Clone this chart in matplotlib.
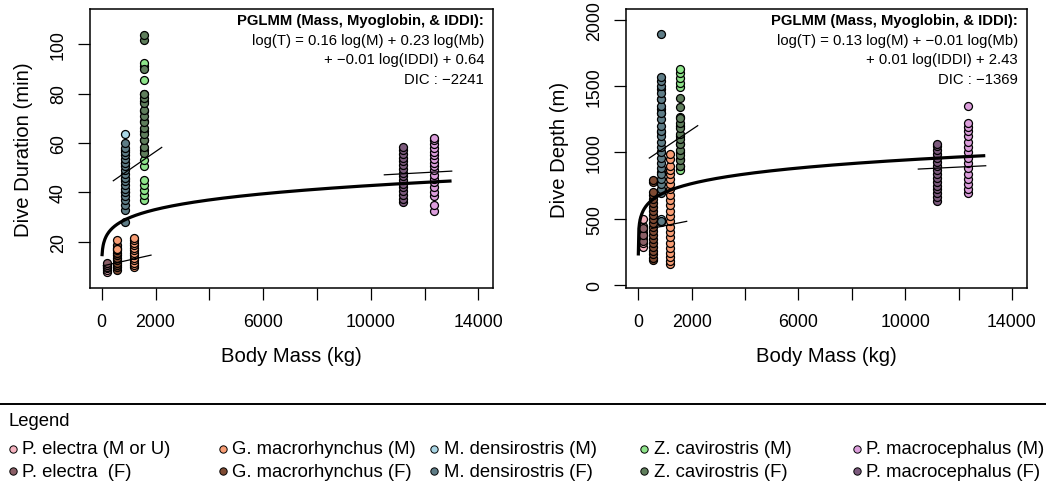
import numpy as np
import matplotlib
matplotlib.use("Agg")
import matplotlib.pyplot as plt

plt.rcParams["font.family"] = ["Liberation Sans", "DejaVu Sans"]

# ---------------------------------------------------------------- data
species = ["P. electra", "G. macrorhynchus", "M. densirostris",
           "Z. cavirostris", "P. macrocephalus"]
male_labels = ["P. electra (M or U)", "G. macrorhynchus (M)", "M. densirostris (M)",
               "Z. cavirostris (M)", "P. macrocephalus (M)"]
female_labels = ["P. electra  (F)", "G. macrorhynchus (F)", "M. densirostris (F)",
                 "Z. cavirostris (F)", "P. macrocephalus (F)"]
male_colors = ["#F6B3C0", "#F89D74", "#A9D6E5", "#8EE48A", "#DC9EDC"]
female_colors = ["#8A5E66", "#7E4A32", "#5E7C86", "#5F7E5C", "#7C5A7D"]

# body mass (kg) per species / sex
mass_pe = 180
mass_gm_f = 560
mass_gm_m = 1200
mass_md = 865
mass_zc = 1580
mass_pm_f = 11180
mass_pm_m = 12350

# dive duration (min)
dur_pe_m = [7.6, 8.4, 9.4]
dur_pe_f = [9.6, 10.6, 11.6]
dur_gm_f = [8.6, 9.6, 10.6, 11.6, 12.6, 13.6, 14.6, 15.6, 16.6, 17.6, 18.6]
dur_gm_m_low = [17.2, 20.6]          # males measured at the lower mass
dur_gm_m = [9.6, 10.6, 11.6, 12.6, 13.6, 14.6, 15.6, 16.6, 17.6, 18.6,
            19.6, 20.6, 21.6]
dur_md_m = [40.0, 45.5, 52.0, 57.0, 63.5]
dur_md_f = [28.0, 33.0, 35.0, 37.0, 38.5, 40.0, 41.5, 43.0, 44.5, 46.0,
            47.5, 49.0, 50.5, 52.0, 53.5, 55.0, 56.5, 58.0, 60.0]
dur_zc_m = [37.0, 39.0, 41.0, 43.0, 45.0, 50.5, 53.0, 57.0, 61.0, 65.0,
            69.0, 73.0, 77.0, 80.0, 85.5, 91.0, 92.5]
dur_zc_f = [56.0, 58.5, 61.0, 63.5, 66.0, 68.5, 71.0, 73.5, 76.0, 78.0,
            80.0, 90.0, 101.5, 103.5]
dur_pm_f = [36.0, 37.5, 39.0, 40.5, 42.0, 43.5, 45.0, 46.5, 48.0, 49.5,
            51.0, 52.5, 54.0, 55.5, 57.0, 58.2]
dur_pm_m = [32.5, 35.0, 38.5, 40.0, 42.0, 44.0, 45.5, 47.0, 49.0, 50.5,
            52.0, 53.5, 55.0, 56.5, 58.0, 59.5, 61.0, 62.0]

# dive depth (m)
dep_pe_m = [290, 320, 345, 370, 395, 420, 445, 500]
dep_pe_f = [335, 380, 430]
dep_gm_f = [185, 200, 230, 260, 290, 320, 350, 380, 410, 440, 470, 500,
            530, 560, 590, 620, 650, 680, 700, 780, 795]
dep_gm_m = [155, 180, 210, 240, 280, 320, 360, 400, 440, 480, 520, 560,
            600, 640, 680, 720, 760, 800, 840, 870, 900, 950, 985]
dep_md_m = [475, 500, 850, 1000, 1150, 1300, 1330, 1400, 1480]
dep_md_f = [485, 690, 720, 760, 800, 840, 880, 920, 960, 1000, 1040, 1080,
            1120, 1160, 1200, 1250, 1300, 1350, 1400, 1450, 1500, 1540,
            1570, 1890]
dep_zc_m = [870, 900, 950, 1000, 1060, 1120, 1200, 1270, 1490, 1520, 1560,
            1600, 1630]
dep_zc_f = [900, 940, 980, 1020, 1060, 1100, 1140, 1180, 1220, 1260, 1340, 1410]
dep_pm_f = [630, 660, 690, 720, 750, 780, 810, 840, 870, 900, 930, 960,
            990, 1020, 1050, 1062]
dep_pm_m = [690, 720, 760, 800, 840, 880, 920, 960, 1000, 1040, 1080, 1120,
            1160, 1190, 1220, 1350]

# PGLMM fitted curve: y = a * M^b over a mass range
fit_dur = dict(a=9.8, b=0.16, m0=10, m1=13000)
fit_dep = dict(a=284.6, b=0.13, m0=0.15, m1=13000)

# group-level fit segments: (mass start, mass end, value start, value end)
seg_dur = [(431, 2230, 44.7, 58.2), (60, 1832, 10.3, 14.6), (10502, 13006, 47.1, 48.6)]
seg_dep = [(412, 2225, 957, 1201), (502, 1813, 427, 480), (10491, 13016, 874, 899)]

eq_dur = ["log(T) = 0.16 log(M) + 0.23 log(Mb)",
          "+ \u22120.01 log(IDDI) + 0.64", "DIC : \u22122241"]
eq_dep = ["log(T) = 0.13 log(M) + \u22120.01 log(Mb)",
          "+ 0.01 log(IDDI) + 2.43", "DIC : \u22121369"]
eq_title = "PGLMM (Mass, Myoglobin, & IDDI):"

# ---------------------------------------------------------------- figure
W, H = 1046, 489
fig = plt.figure(figsize=(W / 100, H / 100), dpi=100)


def px_axes(x0, y0, x1, y1):
    return fig.add_axes([x0 / W, 1 - y1 / H, (x1 - x0) / W, (y1 - y0) / H])


def draw_panel(ax, series, fit, segs, xlim, ylim, yticks):
    for mass, vals, col in series:
        ax.scatter(np.full(len(vals), mass), vals, s=33, c=col,
                   edgecolors="black", linewidths=0.9, zorder=3)
    m = np.linspace(fit["m0"], fit["m1"], 600)
    ax.plot(m, fit["a"] * m ** fit["b"], color="black", lw=2.3, zorder=4,
            solid_capstyle="butt")
    for x0, x1, y0, y1 in segs:
        ax.plot([x0, x1], [y0, y1], color="black", lw=0.9, zorder=4)
    ax.set_xlim(*xlim)
    ax.set_ylim(*ylim)
    ax.set_xticks(np.arange(0, 14001, 2000))
    ax.set_xticklabels(["0", "2000", "", "6000", "", "10000", "", "14000"])
    ax.set_yticks(yticks)
    ax.set_yticklabels([str(t) for t in yticks])
    ax.tick_params(direction="out", length=8.6, width=0.9, labelsize=12.8,
                   colors="black")
    ax.tick_params(axis="x", pad=9.5)
    ax.tick_params(axis="y", pad=8.0, labelrotation=90)
    for lbl in ax.get_yticklabels():
        lbl.set_va("center")
    for sp in ax.spines.values():
        sp.set_linewidth(1.1)


dur_series = [
    (mass_pe, dur_pe_m, male_colors[0]), (mass_pe, dur_pe_f, female_colors[0]),
    (mass_gm_f, dur_gm_f, female_colors[1]), (mass_gm_f, dur_gm_m_low, male_colors[1]),
    (mass_gm_m, dur_gm_m, male_colors[1]),
    (mass_md, dur_md_m, male_colors[2]), (mass_md, dur_md_f, female_colors[2]),
    (mass_zc, dur_zc_m, male_colors[3]), (mass_zc, dur_zc_f, female_colors[3]),
    (mass_pm_f, dur_pm_f, female_colors[4]), (mass_pm_m, dur_pm_m, male_colors[4]),
]
dep_series = [
    (mass_pe, dep_pe_m, male_colors[0]), (mass_pe, dep_pe_f, female_colors[0]),
    (mass_gm_f, dep_gm_f, female_colors[1]), (mass_gm_m, dep_gm_m, male_colors[1]),
    (mass_md, dep_md_m, male_colors[2]), (mass_md, dep_md_f, female_colors[2]),
    (mass_zc, dep_zc_m, male_colors[3]), (mass_zc, dep_zc_f, female_colors[3]),
    (mass_pm_f, dep_pm_f, female_colors[4]), (mass_pm_m, dep_pm_m, male_colors[4]),
]

ax1 = px_axes(90, 10, 493, 289)
draw_panel(ax1, dur_series, fit_dur, seg_dur, (-435, 14540), (1.3, 114.2),
           [20, 40, 60, 80, 100])
ax2 = px_axes(626, 10, 1026.7, 289)
draw_panel(ax2, dep_series, fit_dep, seg_dep, (-461, 14552), (-22.6, 2080.6),
           [0, 500, 1000, 1500, 2000])

# overlay in pixel coordinates for labels, equations and the legend
ov = fig.add_axes([0, 0, 1, 1], zorder=10)
ov.set_xlim(0, W)
ov.set_ylim(H, 0)
ov.axis("off")
ov.patch.set_alpha(0)

ov.text(291.5, 357, "Body Mass (kg)", fontsize=14.6, ha="center", va="center")
ov.text(826, 357, "Body Mass (kg)", fontsize=14.6, ha="center", va="center")
ov.text(23.3, 149.5, "Dive Duration (min)", fontsize=14.6, rotation=90,
        ha="center", va="center")
ov.text(559.3, 149.5, "Dive Depth (m)", fontsize=14.6, rotation=90,
        ha="center", va="center")

line_y = [20.7, 40.5, 60.0, 79.5]
for xr, eq in ((484, eq_dur), (1017.7, eq_dep)):
    ov.text(xr, line_y[0], eq_title, fontsize=10.7, fontweight="bold",
            ha="right", va="center")
    for yy, s in zip(line_y[1:], eq):
        ov.text(xr, yy, s, fontsize=10.7, ha="right", va="center")

# legend
ov.plot([0, W], [405, 405], color="black", lw=1.4)
ov.text(8.3, 421, "Legend", fontsize=13.3, ha="left", va="center")
col_x = [13, 222.7, 434.3, 644, 856.7]
row_y = [450, 472.3]
for i in range(len(species)):
    for yy, lab, col in ((row_y[0], male_labels[i], male_colors[i]),
                         (row_y[1], female_labels[i], female_colors[i])):
        ov.scatter([col_x[i]], [yy], s=28, c=col, edgecolors="black",
                   linewidths=0.7)
        ov.text(col_x[i] + 9.5, yy, lab, fontsize=13.3, ha="left", va="center")

fig.savefig("out.png", dpi=100)
